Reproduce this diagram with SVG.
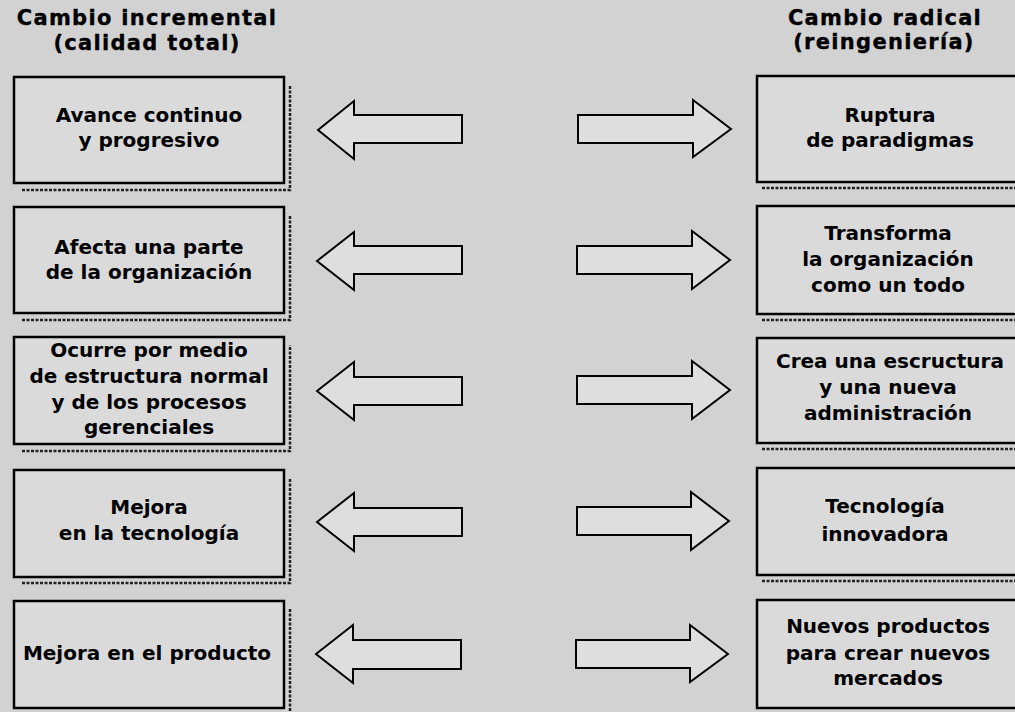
<svg xmlns="http://www.w3.org/2000/svg" width="1015" height="712" viewBox="0 0 1015 712">
<defs>
<style>
.bg{fill:#d2d2d2}
.box{fill:#dadada;stroke:#000;stroke-width:2.5}
.sh{fill:none;stroke:#222;stroke-width:2.5;stroke-dasharray:3 1.5}
.arr{fill:#dedede;stroke:#000;stroke-width:2;stroke-linejoin:miter}
.t{font-family:"DejaVu Sans",sans-serif;font-weight:bold;font-size:20px;fill:#000;text-anchor:middle}
.h{font-family:"DejaVu Sans",sans-serif;font-weight:bold;font-size:21px;fill:#000;text-anchor:middle;letter-spacing:1.3px;stroke:#000;stroke-width:0.35}
</style>
</defs>
<rect class="bg" x="0" y="0" width="1015" height="712"/>

<g id="titles">
<text class="h" x="147" y="25">Cambio incremental</text>
<text class="h" x="147" y="50">(calidad total)</text>
<text class="h" x="885" y="25">Cambio radical</text>
<text class="h" x="884" y="49">(reingeniería)</text>
</g>

<g id="left1">
<path class="sh" d="M22 190 H290 V85"/>
<rect class="box" x="14" y="77" width="270" height="106"/>
<text class="t" x="149" y="122">Avance continuo</text>
<text class="t" x="149" y="147">y progresivo</text>
</g>
<g id="left2">
<path class="sh" d="M22 320 H290 V215"/>
<rect class="box" x="14" y="207" width="270" height="106"/>
<text class="t" x="149" y="254">Afecta una parte</text>
<text class="t" x="149" y="279">de la organización</text>
</g>
<g id="left3">
<path class="sh" d="M22 451 H290 V345"/>
<rect class="box" x="14" y="337" width="270" height="107"/>
<text class="t" x="149" y="357">Ocurre por medio</text>
<text class="t" x="149" y="383">de estructura normal</text>
<text class="t" x="149" y="409">y de los procesos</text>
<text class="t" x="149" y="434">gerenciales</text>
</g>
<g id="left4">
<path class="sh" d="M22 583 H290 V478"/>
<rect class="box" x="14" y="470" width="270" height="107"/>
<text class="t" x="149" y="514">Mejora</text>
<text class="t" x="149" y="540">en la tecnología</text>
</g>
<g id="left5">
<path class="sh" d="M290 609 V712"/>
<rect class="box" x="14" y="601" width="270" height="107"/>
<text class="t" x="147" y="660">Mejora en el producto</text>
</g>

<g id="right1">
<path class="sh" d="M762 188 H1015"/>
<rect class="box" x="757" y="76" width="270" height="106"/>
<text class="t" x="890" y="122">Ruptura</text>
<text class="t" x="890" y="147">de paradigmas</text>
</g>
<g id="right2">
<path class="sh" d="M762 320 H1015"/>
<rect class="box" x="757" y="206" width="270" height="108"/>
<text class="t" x="888" y="240">Transforma</text>
<text class="t" x="888" y="266">la organización</text>
<text class="t" x="888" y="292">como un todo</text>
</g>
<g id="right3">
<path class="sh" d="M762 449 H1015"/>
<rect class="box" x="757" y="338" width="270" height="105"/>
<text class="t" x="890" y="368">Crea una escructura</text>
<text class="t" x="888" y="394">y una nueva</text>
<text class="t" x="888" y="420">administración</text>
</g>
<g id="right4">
<path class="sh" d="M762 581 H1015"/>
<rect class="box" x="757" y="468" width="270" height="107"/>
<text class="t" x="885" y="513">Tecnología</text>
<text class="t" x="885" y="541">innovadora</text>
</g>
<g id="right5">
<rect class="box" x="757" y="600" width="270" height="108"/>
<text class="t" x="888" y="633">Nuevos productos</text>
<text class="t" x="888" y="660">para crear nuevos</text>
<text class="t" x="888" y="685">mercados</text>
</g>

<g id="connectors">
<path class="arr" d="M318 130 L354 101 V115 H462 V143 H354 V159 Z"/>
<path class="arr" d="M731 129 L693 100 V115 H578 V143 H693 V157 Z"/>
<path class="arr" d="M317 261 L354 232 V246 H462 V274 H354 V290 Z"/>
<path class="arr" d="M730 260 L692 231 V246 H577 V274 H692 V289 Z"/>
<path class="arr" d="M317 391 L354 362 V377 H462 V405 H354 V420 Z"/>
<path class="arr" d="M730 390 L692 361 V376 H577 V404 H692 V419 Z"/>
<path class="arr" d="M317 522 L354 493 V508 H462 V536 H354 V551 Z"/>
<path class="arr" d="M729 521 L691 492 V507 H577 V535 H691 V550 Z"/>
<path class="arr" d="M316 654 L353 625 V640 H461 V669 H353 V683 Z"/>
<path class="arr" d="M728 654 L690 625 V640 H576 V668 H690 V682 Z"/>
</g>
</svg>
